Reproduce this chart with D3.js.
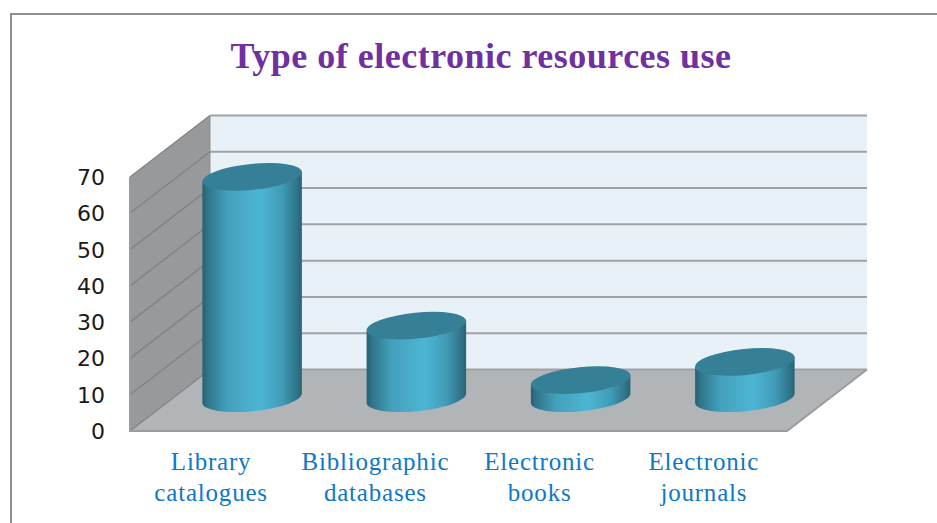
<!DOCTYPE html>
<html><head><meta charset="utf-8">
<script src="https://cdn.jsdelivr.net/npm/d3@7"></script>
<style>html,body{margin:0;padding:0;background:#fff;overflow:hidden}svg{display:block}</style>
</head><body><svg id="c" width="937" height="523"></svg>
<script>
const titleText = "Type of electronic resources use";
const categories = [["Library","catalogues"],["Bibliographic","databases"],["Electronic","books"],["Electronic","journals"]];
const values = [61, 20, 5, 10];
const tickValues = [0,10,20,30,40,50,60,70];

const svg = d3.select("#c");
const defs = svg.append("defs");
const grad = defs.append("linearGradient").attr("id","cyl");
[[0,"#28606f"],[0.05,"#2f7489"],[0.25,"#43a0bb"],[0.58,"#4db6d5"],[0.8,"#409cb7"],[0.95,"#2f7389"],[1,"#2a6475"]]
  .forEach(([o,c])=>grad.append("stop").attr("offset",o).attr("stop-color",c));
const blur = defs.append("filter").attr("id","soft");
blur.append("feGaussianBlur").attr("stdDeviation",0.5);

// frame
svg.append("path").attr("d","M11,523V14H937").attr("fill","none").attr("stroke","#8f8f8f").attr("stroke-width",2);

svg.append("text").text(titleText).attr("x",481).attr("y",68).attr("text-anchor","middle")
  .attr("font-family","'Liberation Serif',serif").attr("font-weight","bold").attr("font-size",36)
  .attr("letter-spacing",0.5).attr("fill","#7030a0");

const y = d3.scaleLinear().domain([0,70]).range([431,177]);   // front plane
const x = d3.scaleBand().domain(d3.range(categories.length)).range([130,787]);
const dx = 80, dy = -61.5;                                     // depth offset

const g = svg.append("g").attr("filter","url(#soft)");
const x0 = x.range()[0], x1 = x.range()[1];
// back wall
g.append("rect").attr("x",x0+dx).attr("y",y(70)+dy).attr("width",x1-x0).attr("height",y(0)-y(70)).attr("fill","#e8f0f8");
// left wall
g.append("path").attr("d",`M${x0},${y(0)}L${x0},${y(70)}L${x0+dx},${y(70)+dy}L${x0+dx},${y(0)+dy}Z`).attr("fill","#97999b");
// floor
g.append("path").attr("d",`M${x0},${y(0)}L${x1},${y(0)}L${x1+dx},${y(0)+dy}L${x0+dx},${y(0)+dy}Z`)
  .attr("fill","#b1b5b8");
// gridlines
g.selectAll("line.back").data(tickValues).join("line").attr("class","back")
  .attr("x1",x0+dx).attr("x2",x1+dx).attr("y1",d=>y(d)+dy).attr("y2",d=>y(d)+dy)
  .attr("stroke","#a0a2a4").attr("stroke-width",2);
g.selectAll("line.side").data(tickValues).join("line").attr("class","side")
  .attr("x1",x0).attr("x2",x0+dx).attr("y1",d=>y(d)).attr("y2",d=>y(d)+dy)
  .attr("stroke","#808486").attr("stroke-width",1.4);
g.append("path").attr("d",`M${x0},${y(70)}V${y(0)}H${x1}L${x1+dx},${y(0)+dy}`).attr("fill","none").attr("stroke","#9a9c9e").attr("stroke-width",2);
g.append("line").attr("x1",x0+dx).attr("x2",x0+dx).attr("y1",y(70)+dy).attr("y2",y(0)+dy).attr("stroke","#8d9092").attr("stroke-width",1);

// cylinders
const rx = 50, ry = 13, tilt = -5.7, rad = tilt*Math.PI/180;
const ex = rx*Math.cos(rad), ey = rx*Math.sin(rad);
const bars = g.selectAll("g.bar").data(values).join("g").attr("class","bar");
const cx = (d,i)=>x(i)+x.bandwidth()/2+dx/2;
const yb = y(0)+dy/2-2;                  // centre of the base ellipse
const yt = d=>yb-(y(0)-y(d));
bars.append("path").attr("fill","url(#cyl)").attr("d",(d,i)=>{
  const c=cx(d,i), t=yt(d);
  return `M${c-ex},${t-ey}L${c-ex},${yb-ey}A${rx},${ry} ${tilt} 0 0 ${c+ex},${yb+ey}L${c+ex},${t+ey}Z`;
});
bars.append("ellipse").attr("fill","#357f97")
  .attr("cx",(d,i)=>cx(d,i)).attr("cy",d=>yt(d)).attr("rx",rx).attr("ry",ry)
  .attr("transform",(d,i)=>`rotate(${tilt} ${cx(d,i)} ${yt(d)})`);

// y axis
const axis = svg.append("g").attr("transform","translate(108,0)")
  .call(d3.axisLeft(y).tickValues(tickValues).tickSize(0).tickPadding(3));
axis.select(".domain").remove();
axis.selectAll("text").attr("font-family","'DejaVu Sans',sans-serif").attr("font-size",22).attr("fill","#1a1a1a").attr("dy","0.34em");

// categories
const cat = svg.selectAll("text.cat").data(categories).join("text").attr("class","cat")
  .attr("text-anchor","middle").attr("font-family","'Liberation Serif',serif").attr("font-size",25)
  .attr("letter-spacing",0.8).attr("fill","#0f78c6");
cat.selectAll("tspan").data((d,i)=>d.map((t,j)=>({t,j,i}))).join("tspan")
  .attr("x",d=>x(d.i)+x.bandwidth()/2-1).attr("y",d=>470+d.j*31).text(d=>d.t);
</script></body></html>
